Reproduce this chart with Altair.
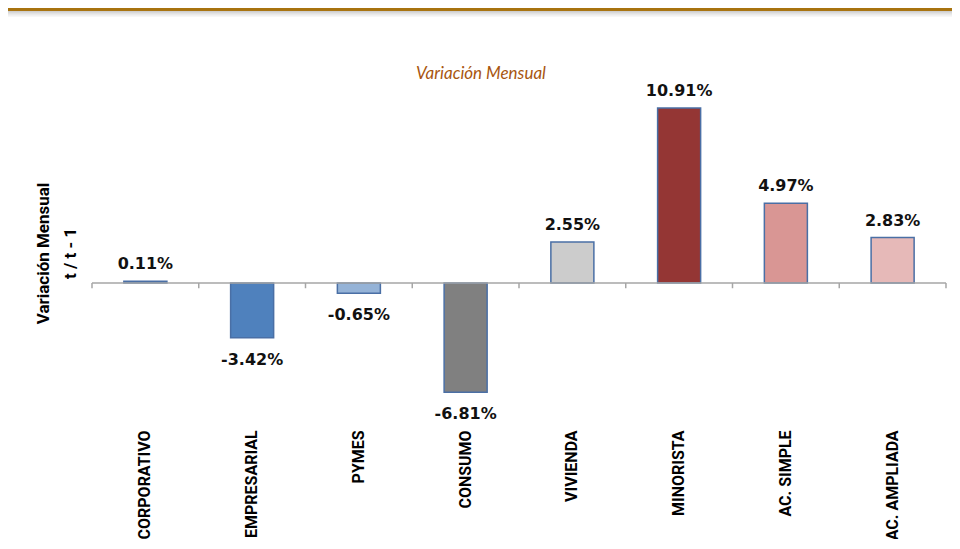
import altair as alt
import pandas as pd

categories = ["CORPORATIVO", "EMPRESARIAL", "PYMES", "CONSUMO",
              "VIVIENDA", "MINORISTA", "AC. SIMPLE", "AC. AMPLIADA"]
values = [0.11, -3.42, -0.65, -6.81, 2.55, 10.91, 4.97, 2.83]
bar_colors = ["#4F81BD", "#4F81BD", "#95B3D7", "#808080",
              "#CCCCCC", "#943634", "#D99694", "#E6B9B8"]
boundaries = list(range(len(categories) + 1))
chart_title = "Variación Mensual"
y_title = ["Variación Mensual", "t / t - 1"]

df = pd.DataFrame({"cat": categories, "v": values})
bdf = pd.DataFrame({"b": boundaries})
one = pd.DataFrame({"a": [0]})

W, H = 854, 326.4
PADL, PADT = 84, 90.5

xenc = alt.X("cat:N", sort=categories,
             scale=alt.Scale(paddingInner=0.597, paddingOuter=0.2985),
             axis=alt.Axis(title=None, labelAngle=-90, domain=False, ticks=False,
                           labelPadding=5, labelFont="Roboto", labelFontWeight="bold",
                           labelFontSize=16, labelColor="#000000", grid=False))
yenc = alt.Y("v:Q", scale=alt.Scale(domain=[-8.85, 11.5], nice=False, zero=False),
             axis=alt.Axis(title=y_title, labels=False,
                           ticks=False, domain=False, grid=False,
                           titleFont="Roboto", titleFontWeight="bold", titleFontSize=17,
                           titleColor="#000000", titleAngle=-90, titleAlign="center",
                           titleBaseline="middle", titleX=-49, titleY=154.5,
                           titleLineHeight=28))

base = alt.Chart(df).transform_calculate(
    lbl="(datum.v < 0 ? '-' : '') + format(abs(datum.v), '.2f') + '%'")

bars = base.mark_bar(stroke="#4A6FA5", strokeWidth=1.5).encode(
    x=xenc, y=yenc,
    color=alt.Color("cat:N", scale=alt.Scale(domain=categories, range=bar_colors),
                    legend=None))

txt_font = dict(font="DejaVu Sans", fontWeight="bold", fontSize=16, color="#111111",
                baseline="alphabetic", align="center")
pos_txt = base.transform_filter("datum.v >= 0").mark_text(dy=-12, **txt_font).encode(
    x=alt.X("cat:N", sort=categories), y="v:Q", text="lbl:N")
neg_txt = base.transform_filter("datum.v < 0").mark_text(dy=27, **txt_font).encode(
    x=alt.X("cat:N", sort=categories), y="v:Q", text="lbl:N")

zero_line = alt.Chart(one).mark_rule(color="#A6A6A6", strokeWidth=1.5).encode(
    y=alt.datum(0), x=alt.value(0), x2=alt.value(W))

ticks = alt.Chart(bdf).mark_rule(color="#A6A6A6", strokeWidth=1.5).encode(
    x=alt.X("b:Q", scale=alt.Scale(domain=[0, len(categories)], nice=False, zero=False),
            axis=None),
    y=alt.datum(0), y2=alt.datum(-0.33))

gold = alt.Chart(one).mark_rule(color="#A8730F", strokeWidth=3).encode(
    x=alt.value(-PADL), x2=alt.value(W + 6), y=alt.value(-PADT + 1.5))
shadow_cols = ["#cfcfcf", "#d9d9d9", "#e2e2e2", "#eaeaea", "#f1f1f1", "#f7f7f7"]
shadows = [alt.Chart(one).mark_rule(color=c, strokeWidth=1).encode(
    x=alt.value(-PADL), x2=alt.value(W + 6), y=alt.value(-PADT + 3.5 + i))
    for i, c in enumerate(shadow_cols)]

title_txt = alt.Chart(one).mark_text(
    font="Lato", fontStyle="italic", fontSize=17, color="#A8560F",
    align="center", baseline="middle").encode(
    x=alt.value(389), y=alt.value(-24), text=alt.value(chart_title))

main = alt.layer(bars, pos_txt, neg_txt, zero_line, gold, *shadows, title_txt)
chart = alt.layer(main, ticks).resolve_scale(x="independent").properties(
    width=W, height=H,
    autosize=alt.AutoSizeParams(type="none"),
    padding={"left": PADL, "top": PADT, "right": 6, "bottom": 114},
).configure_view(stroke=None)

chart.save("out.html", embed_options={"renderer": "svg", "actions": False})
